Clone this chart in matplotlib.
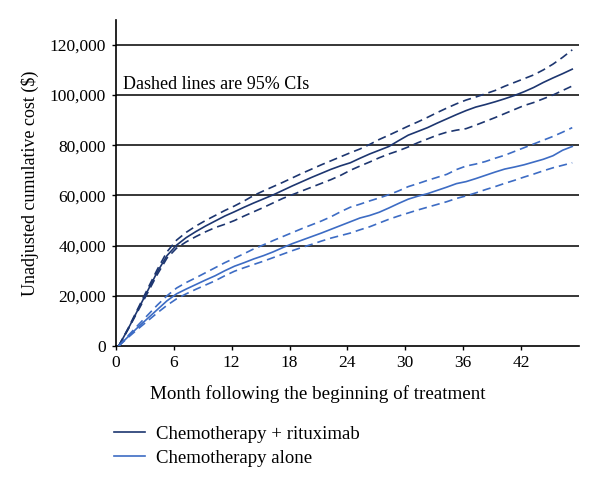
import matplotlib
matplotlib.use("Agg")
import matplotlib.pyplot as plt
from matplotlib.ticker import FuncFormatter

plt.rcParams["font.family"] = ["Liberation Serif", "DejaVu Serif"]

months = list(range(48))

# Chemotherapy + rituximab
rit_mean = [0, 7000, 14500, 22000, 29500, 36000, 40200, 43200, 45600, 47800,
            49800, 51800, 53500, 55300, 57000, 58600, 60200, 62000, 63800, 65500,
            67200, 68800, 70400, 71800, 73000, 74800, 76500, 78000, 79500, 81800,
            84000, 85500, 87000, 88800, 90500, 92200, 93800, 95200, 96200, 97300,
            98500, 99800, 101300, 103000, 105000, 106800, 108500, 110300]
rit_upper = [0, 7200, 15000, 22800, 30500, 37500, 42200, 45300, 47800, 50000,
             52000, 54000, 55800, 57800, 60000, 61800, 63500, 65200, 67000, 68800,
             70500, 72200, 73800, 75400, 77000, 78500, 80300, 82300, 84000, 85800,
             87600, 89300, 91100, 93000, 94800, 96500, 98000, 99200, 100500, 101800,
             103500, 105000, 106500, 108000, 110000, 112300, 115000, 118000]
rit_lower = [0, 6800, 14000, 21200, 28500, 35000, 39000, 41500, 43600, 45500,
             47200, 48500, 50000, 51800, 53500, 55200, 57000, 58800, 60300, 61800,
             63300, 64800, 66300, 68000, 70000, 71700, 73300, 75000, 76500, 77800,
             79300, 81000, 82500, 84000, 85200, 86000, 86600, 88000, 89500, 91000,
             92600, 94200, 95800, 97000, 98500, 100000, 101800, 103600]

# Chemotherapy alone
chemo_mean = [0, 3800, 7500, 11000, 14500, 18000, 20800, 22700, 24500, 26300,
              28000, 30000, 31800, 33200, 34700, 36000, 37500, 39200, 40800, 42200,
              43600, 45000, 46500, 48000, 49500, 51000, 52000, 53300, 55000, 56800,
              58500, 59700, 60700, 62000, 63300, 64700, 65500, 66700, 68000, 69300,
              70500, 71300, 72200, 73300, 74400, 75800, 78000, 79500]
chemo_upper = [0, 4200, 8300, 12300, 16300, 20000, 23100, 25300, 27200, 29200,
               31200, 33200, 35000, 36800, 38700, 40300, 42000, 43600, 45200, 46800,
               48300, 49800, 51500, 53500, 55300, 56500, 57800, 59000, 60300, 61800,
               63500, 64700, 66000, 67200, 68400, 70300, 71700, 72500, 73500, 74800,
               76000, 77500, 79000, 80500, 82000, 83500, 85200, 87000]
chemo_lower = [0, 3500, 6800, 10000, 13200, 16200, 18800, 20800, 22600, 24300,
               26000, 28000, 29800, 31200, 32500, 33800, 35200, 36600, 38000, 39300,
               40500, 41800, 43000, 44000, 45000, 46300, 47500, 49000, 50500, 51800,
               53000, 54200, 55300, 56400, 57500, 58800, 59800, 61000, 62300, 63500,
               64800, 66000, 67300, 68500, 69800, 71000, 72000, 73000]

DARK = "#1d3670"
LIGHT = "#3d6cc4"

fig = plt.figure(figsize=(6, 4.87), dpi=100)
ax = fig.add_axes([0.193, 0.2895, 0.772, 0.67])

for y in range(20000, 120001, 20000):
    ax.axhline(y, color="black", lw=1.1, zorder=1)

x = [m + 0.3 for m in months]
ax.plot(x, rit_mean, color=DARK, lw=1.2, label="Chemotherapy + rituximab", zorder=3)
ax.plot(x, rit_upper, color=DARK, lw=1.2, ls=(0, (5, 3)), zorder=3)
ax.plot(x, rit_lower, color=DARK, lw=1.2, ls=(0, (5, 3)), zorder=3)
ax.plot(x, chemo_mean, color=LIGHT, lw=1.2, label="Chemotherapy alone", zorder=3)
ax.plot(x, chemo_upper, color=LIGHT, lw=1.2, ls=(0, (5, 3)), zorder=3)
ax.plot(x, chemo_lower, color=LIGHT, lw=1.2, ls=(0, (5, 3)), zorder=3)

ax.set_xlim(0, 48)
ax.set_ylim(0, 130000)
ax.set_xticks(range(0, 43, 6))
ax.set_yticks(range(0, 120001, 20000))
ax.yaxis.set_major_formatter(FuncFormatter(lambda v, p: f"{int(v):,}"))
ax.tick_params(labelsize=12.5, length=3, width=1, colors="black")
ax.tick_params(axis="y", pad=4)
for s in ["top", "right"]:
    ax.spines[s].set_visible(False)
for s in ["left", "bottom"]:
    ax.spines[s].set_linewidth(1.2)

ax.text(0.7, 104300, "Dashed lines are 95% CIs", fontsize=13, va="center")
ax.set_xlabel("Month following the beginning of treatment", fontsize=13.7,
              labelpad=10, x=0.436)
ax.set_ylabel("Unadjusted cumulative cost ($)", fontsize=13, labelpad=8)

fig.legend(loc="upper left", bbox_to_anchor=(0.178, 0.141), frameon=False,
           fontsize=13.5, handlelength=1.65, handletextpad=0.6, labelspacing=0.35,
           borderaxespad=0)

fig.savefig("out.png", dpi=100)
